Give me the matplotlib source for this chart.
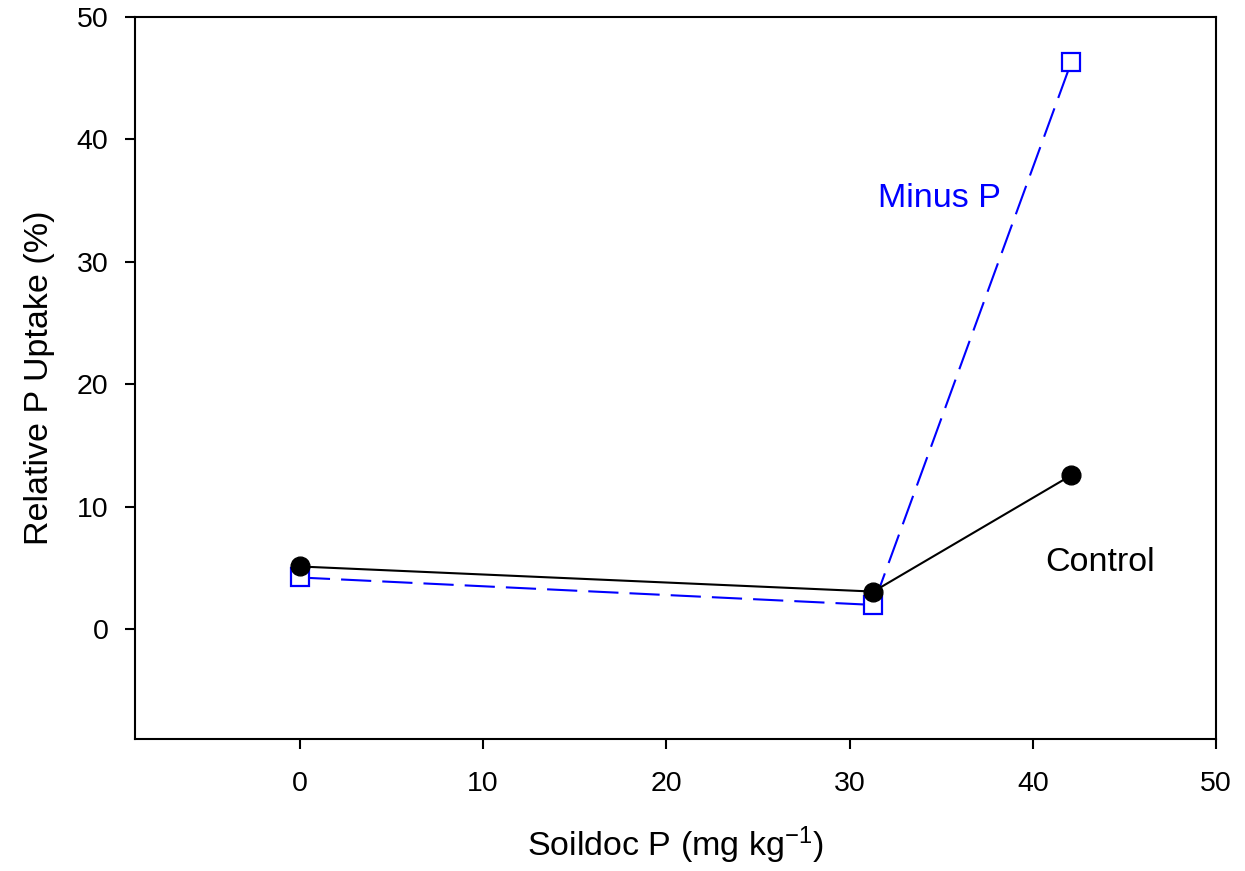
import matplotlib
matplotlib.use("Agg")
import matplotlib.pyplot as plt

plt.rcParams['font.family'] = ['Liberation Sans', 'DejaVu Sans']
plt.rcParams['mathtext.fontset'] = 'custom'
plt.rcParams['mathtext.rm'] = 'Liberation Sans'
plt.rcParams['mathtext.it'] = 'Liberation Sans'
plt.rcParams['mathtext.default'] = 'regular'

soildoc_p = [0.0, 31.3, 42.1]
control = [5.1, 3.05, 12.55]
minus_p = [4.2, 1.96, 46.3]
x_ticks = [0, 10, 20, 30, 40, 50]
y_ticks = [0, 10, 20, 30, 40, 50]

fig = plt.figure(figsize=(12.45, 8.71), dpi=100)
ax = fig.add_axes([0.1084, 0.1515, 0.8683, 0.829])

ax.plot(soildoc_p, minus_p, color='#0000ff', lw=1.5, dashes=(14.5, 5.3),
        marker='s', markersize=12.5, markerfacecolor='white',
        markeredgecolor='#0000ff', markeredgewidth=1.6, zorder=2)
ax.plot(soildoc_p, control, color='black', lw=1.5,
        marker='o', markersize=13.5, markerfacecolor='black',
        markeredgecolor='black', zorder=3)

ax.text(31.55, 35.2, 'Minus P', color='#0000ff', fontsize=24.5, va='center', ha='left')
ax.text(40.67, 5.4, 'Control', color='black', fontsize=24.5, va='center', ha='left')

ax.set_xlim(-9, 50)
ax.set_ylim(-9, 50)
ax.set_xticks(x_ticks)
ax.set_yticks(y_ticks)
ax.tick_params(axis='both', direction='out', length=7, width=1.5, labelsize=20.5,
               top=False, right=False)
ax.tick_params(axis='x', pad=16)
ax.tick_params(axis='y', pad=12)
for s in ax.spines.values():
    s.set_linewidth(1.5)

ax.set_xlabel('Soildoc P (mg kg$^{-1}$)', fontsize=24.5, labelpad=20)
ax.set_ylabel('Relative P Uptake (%)', fontsize=24.5, labelpad=16)

fig.savefig('out.png', dpi=100)
